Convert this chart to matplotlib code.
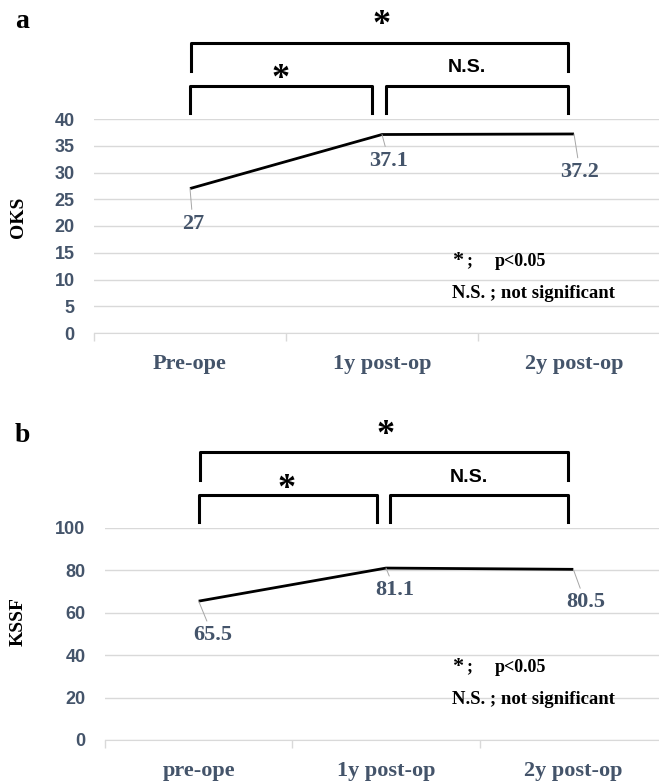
import matplotlib.pyplot as plt
from matplotlib.transforms import blended_transform_factory

# Daten
oks_cats = ['Pre-ope', '1y post-op', '2y post-op']
oks_vals = [27, 37.1, 37.2]
oks_labels = ['27', '37.1', '37.2']
oks_ticks = [0, 5, 10, 15, 20, 25, 30, 35, 40]

kssf_cats = ['pre-ope', '1y post-op', '2y post-op']
kssf_vals = [65.5, 81.1, 80.5]
kssf_labels = ['65.5', '81.1', '80.5']
kssf_ticks = [0, 20, 40, 60, 80, 100]

W, H = 659, 781
TXT = '#44546A'
GRID = '#D9D9D9'
SERIF = 'Liberation Serif'
SANS = 'Liberation Sans'
NARROW = ['Liberation Sans Narrow', 'Liberation Sans']

fig = plt.figure(figsize=(W / 100, H / 100), dpi=100)


def px_axes(left, right, top, bottom):
    return fig.add_axes([left / W, 1 - bottom / H, (right - left) / W, (bottom - top) / H])


def panel(ax, cats, vals, labels, ticks, ymax, offsets, ylabel, ylab_y, tag, tag_y, leg_y):
    x = range(len(cats))
    ax.plot(x, vals, color='black', lw=2, solid_capstyle='butt', zorder=3)
    for xi, v, lab, (dx, dy) in zip(x, vals, labels, offsets):
        ax.annotate(lab, (xi, v), xytext=(dx, dy), textcoords='offset pixels',
                    ha='center', va='center', color=TXT, fontsize=16,
                    fontfamily=SERIF, fontweight='bold',
                    arrowprops=dict(arrowstyle='-', color='#A6A6A6', lw=0.7,
                                    shrinkA=1, shrinkB=0))
    ax.set_xlim(-0.5, 2.5)
    ax.set_ylim(0, ymax)
    ax.set_yticks(ticks)
    ax.set_yticklabels([str(t) for t in ticks], color=TXT, fontsize=13,
                       fontfamily=SANS, fontweight='bold')
    ax.set_xticks(list(x))
    ax.set_xticklabels(cats, color=TXT, fontsize=16, fontfamily=SERIF, fontweight='bold')
    ax.set_xticks([-0.5, 0.5, 1.5, 2.5], minor=True)
    ax.tick_params(axis='x', which='major', length=0, pad=15)
    ax.tick_params(axis='x', which='minor', length=6, color=GRID, width=1)
    ax.tick_params(axis='y', length=0, pad=14)
    ax.grid(axis='y', color=GRID, lw=1)
    ax.set_axisbelow(True)
    for s in ['top', 'right', 'left']:
        ax.spines[s].set_visible(False)
    ax.spines['bottom'].set_color(GRID)

    fig.text(18 / W, 1 - ylab_y / H, ylabel, rotation=90, ha='center', va='center',
             fontsize=14, fontfamily=SERIF, fontweight='bold')
    fig.text(22 / W, 1 - tag_y / H, tag, ha='center', va='center',
             fontsize=20, fontfamily=SERIF, fontweight='bold')

    # Signifikanz-Klammern (Abstand in Pixeln über der Achse)
    tr = blended_transform_factory(ax.transData, ax.transAxes)
    h = ax.get_position().height * H
    up = lambda p: 1 + p / h
    ax.plot([0.005, 0.005, 1.97, 1.97], [up(48), up(76), up(76), up(48)],
            transform=tr, clip_on=False, color='black', lw=2.2)
    ax.text(1.0, up(93), '*', transform=tr, ha='center', va='center',
            fontsize=26, fontfamily=SERIF, fontweight='bold')
    ax.plot([0.0, 0.0, 0.95, 0.95], [up(6), up(33), up(33), up(6)],
            transform=tr, clip_on=False, color='black', lw=2.2)
    ax.plot([1.02, 1.02, 1.97, 1.97], [up(6), up(33), up(33), up(6)],
            transform=tr, clip_on=False, color='black', lw=2.2)
    ax.text(0.47, up(39), '*', transform=tr, ha='center', va='center',
            fontsize=26, fontfamily=SERIF, fontweight='bold')
    ax.text(1.44, up(51), 'N.S.', transform=tr, ha='center', va='center',
            fontsize=14, fontfamily=NARROW, fontweight='bold')

    # Legende
    fig.text(452 / W, 1 - leg_y / H, '*', ha='left', va='center',
             fontsize=16, fontfamily=SERIF, fontweight='bold')
    fig.text(466 / W, 1 - leg_y / H, ';', ha='left', va='center',
             fontsize=13, fontfamily=SERIF, fontweight='bold')
    fig.text(495 / W, 1 - leg_y / H, 'p<0.05', ha='left', va='center',
             fontsize=13, fontfamily=SERIF, fontweight='bold')
    fig.text(452 / W, 1 - (leg_y + 33) / H, 'N.S. ; not significant', ha='left', va='center',
             fontsize=13.5, fontfamily=SERIF, fontweight='bold')


ax1 = px_axes(94, 670, 119, 333)
panel(ax1, oks_cats, oks_vals, oks_labels, oks_ticks, 40,
      [(3, -35), (7, -26), (6, -38)], 'OKS', 217, 'a', 22, 261)

ax2 = px_axes(105, 667, 528, 740)
panel(ax2, kssf_cats, kssf_vals, kssf_labels, kssf_ticks, 100,
      [(14, -34), (9, -22), (12, -33)], 'KSSF', 622, 'b', 435, 667)

fig.savefig('out.png', dpi=100)
